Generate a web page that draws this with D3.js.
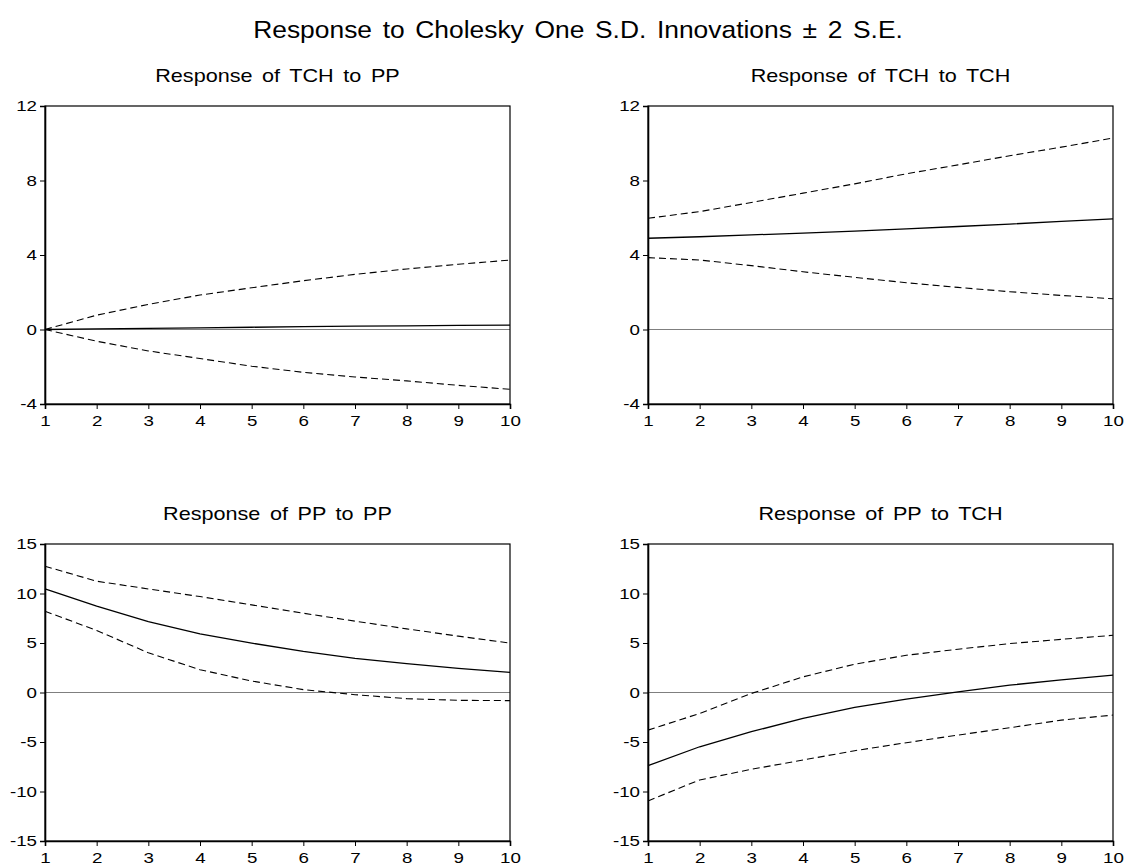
<!DOCTYPE html>
<html>
<head>
<meta charset="utf-8">
<script src="https://cdn.jsdelivr.net/npm/d3@7/dist/d3.min.js"></script>
<style>
  html, body { margin: 0; padding: 0; background: #fff; }
  svg { display: block; }
  text { font-family: "Liberation Sans", Arial, sans-serif; fill: #000; }
</style>
</head>
<body>
<svg id="chart" width="1128" height="868"></svg>
<script>
// Impulse-response horizons
const periods = [1, 2, 3, 4, 5, 6, 7, 8, 9, 10];

// Response of TCH to PP
const tchPP      = [0.00, 0.03, 0.06, 0.09, 0.12, 0.15, 0.18, 0.20, 0.22, 0.23];
const tchPPUpper = [0.00, 0.77, 1.35, 1.85, 2.24, 2.62, 2.96, 3.25, 3.50, 3.73];
const tchPPLower = [0.00, -0.63, -1.15, -1.56, -1.97, -2.30, -2.55, -2.76, -3.00, -3.21];

// Response of TCH to TCH
const tchTCH      = [4.90, 4.98, 5.08, 5.17, 5.28, 5.40, 5.53, 5.66, 5.80, 5.94];
const tchTCHUpper = [5.97, 6.33, 6.82, 7.32, 7.82, 8.36, 8.84, 9.33, 9.79, 10.28];
const tchTCHLower = [3.86, 3.73, 3.43, 3.10, 2.80, 2.51, 2.26, 2.03, 1.83, 1.65];

// Response of PP to PP
const ppPP      = [10.46, 8.72, 7.17, 5.93, 4.99, 4.15, 3.44, 2.91, 2.44, 2.03];
const ppPPUpper = [12.75, 11.24, 10.46, 9.69, 8.85, 8.01, 7.21, 6.43, 5.69, 4.99];
const ppPPLower = [8.21, 6.27, 4.01, 2.30, 1.16, 0.29, -0.22, -0.62, -0.79, -0.82];

// Response of PP to TCH
const ppTCH      = [-7.39, -5.48, -3.96, -2.62, -1.51, -0.67, 0.07, 0.74, 1.28, 1.75];
const ppTCHUpper = [-3.80, -2.12, -0.10, 1.58, 2.86, 3.76, 4.37, 4.94, 5.37, 5.78];
const ppTCHLower = [-10.95, -8.83, -7.76, -6.82, -5.88, -5.07, -4.30, -3.56, -2.79, -2.28];

// Axis ticks
const tchTicks = [-4, 0, 4, 8, 12];
const ppTicks = [-15, -10, -5, 0, 5, 10, 15];

const mainTitle = "Response to Cholesky One S.D. Innovations \u00B1 2 S.E.";
const panelTitles = ["Response of TCH to PP", "Response of TCH to TCH",
                     "Response of PP to PP", "Response of PP to TCH"];

const panels = [
  { title: panelTitles[0], mid: tchPP,  hi: tchPPUpper,  lo: tchPPLower,  domain: [-4, 12],  ticks: tchTicks, col: 0, row: 0 },
  { title: panelTitles[1], mid: tchTCH, hi: tchTCHUpper, lo: tchTCHLower, domain: [-4, 12],  ticks: tchTicks, col: 1, row: 0 },
  { title: panelTitles[2], mid: ppPP,   hi: ppPPUpper,   lo: ppPPLower,   domain: [-15, 15], ticks: ppTicks,  col: 0, row: 1 },
  { title: panelTitles[3], mid: ppTCH,  hi: ppTCHUpper,  lo: ppTCHLower,  domain: [-15, 15], ticks: ppTicks,  col: 1, row: 1 }
];

// Plot-area rectangles for the 2x2 grid
const colX = [[45, 510], [648, 1113]];
const rowY = [[106, 404], [544, 841]];

// Plain hyphen-minus tick labels
const plainFormat = d => String(d);

// Widen glyphs horizontally around each text's own anchor point
function widen(sel, sx) {
  sel.each(function () {
    const t = d3.select(this);
    const ax = +(t.attr("x") || 0);
    t.attr("transform", `translate(${ax},0) scale(${sx},1) translate(${-ax},0)`);
  });
}

const svg = d3.select("#chart");

svg.append("text")
  .attr("x", 578).attr("y", 38)
  .attr("text-anchor", "middle")
  .style("font-size", "24px")
  .style("word-spacing", "3px")
  .text(mainTitle)
  .call(widen, 1.1);

panels.forEach(p => {
  const [x0, x1] = colX[p.col];
  const [y0, y1] = rowY[p.row];

  const x = d3.scaleLinear().domain([1, 10]).range([x0, x1]);
  const y = d3.scaleLinear().domain(p.domain).range([y1, y0]);

  const g = svg.append("g");

  // zero reference line
  g.append("line")
    .attr("x1", x0).attr("x2", x1)
    .attr("y1", y(0)).attr("y2", y(0))
    .attr("stroke", "#7f7f7f").attr("stroke-width", 1.2);

  const line = d3.line().x((d, i) => x(periods[i])).y(d => y(d));

  // confidence bands
  [p.hi, p.lo].forEach(band => {
    g.append("path").datum(band)
      .attr("d", line)
      .attr("fill", "none")
      .attr("stroke", "#000")
      .attr("stroke-width", 1.1)
      .attr("stroke-dasharray", "7,4");
  });

  // point estimate
  g.append("path").datum(p.mid)
    .attr("d", line)
    .attr("fill", "none")
    .attr("stroke", "#000")
    .attr("stroke-width", 1.3);

  // frame
  g.append("rect")
    .attr("x", x0).attr("y", y0)
    .attr("width", x1 - x0).attr("height", y1 - y0)
    .attr("fill", "none").attr("stroke", "#000").attr("stroke-width", 1.2);

  // y axis
  const ya = g.append("g")
    .attr("transform", `translate(${x0},0)`)
    .call(d3.axisLeft(y).tickValues(p.ticks).tickSize(5).tickPadding(3).tickFormat(plainFormat));
  ya.select(".domain").attr("stroke-width", 1.6);
  ya.selectAll("text").style("font-size", "15px").attr("fill", "#000").call(widen, 1.25);

  // x axis
  const xa = g.append("g")
    .attr("transform", `translate(0,${y1})`)
    .call(d3.axisBottom(x).tickValues(periods).tickSize(5).tickPadding(6).tickFormat(plainFormat));
  xa.select(".domain").attr("stroke-width", 1.6);
  xa.selectAll("text").style("font-size", "15px").attr("fill", "#000").call(widen, 1.25);

  // panel title
  g.append("text")
    .attr("x", (x0 + x1) / 2)
    .attr("y", y0 - 24)
    .attr("text-anchor", "middle")
    .style("font-size", "18px")
    .style("word-spacing", "3px")
    .text(p.title)
    .call(widen, 1.2);
});
</script>
</body>
</html>
